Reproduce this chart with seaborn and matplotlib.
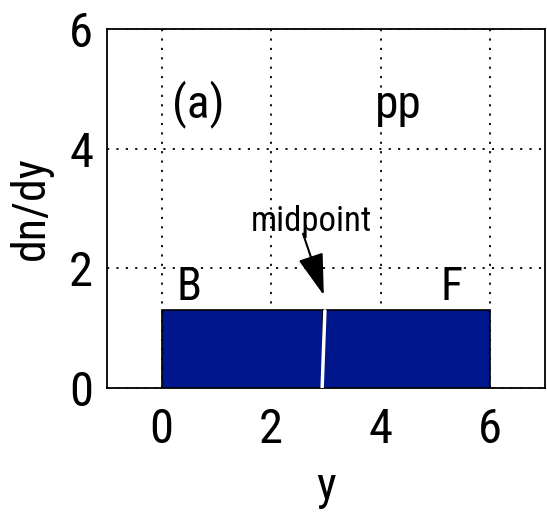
import matplotlib
matplotlib.use("Agg")
import matplotlib.pyplot as plt
import seaborn as sns
import numpy as np

# data
bin_edges = [0.0, 2.95, 6.0]
bin_centers = [1.5, 4.5]
heights = [1.3, 1.3]
midpoint = 2.95
xticks = [0, 2, 4, 6]
yticks = [0, 2, 4, 6]

sns.set_theme(style="white")
plt.rcParams['font.family'] = ['Roboto Condensed', 'Liberation Sans', 'DejaVu Sans']
plt.rcParams['text.color'] = 'black'
plt.rcParams['axes.labelcolor'] = 'black'

fig = plt.figure(figsize=(5.47, 5.15), dpi=100)
ax = fig.add_axes([0.1956, 0.2466, 0.8007, 0.6971])

sns.histplot(x=bin_centers, weights=heights, bins=bin_edges, stat="count",
             color="#00168c", alpha=1, edgecolor="black", linewidth=1.2, ax=ax, zorder=3)
ax.plot([midpoint + 0.03, midpoint - 0.02], [heights[0] - 0.01, 0.01], color="white", lw=2.5, zorder=4)

ax.set_xlim(-1, 7)
ax.set_ylim(0, 6)
ax.set_xticks(xticks)
ax.set_yticks(yticks)
ax.grid(True, color="black", linestyle=(0, (1.2, 4)), linewidth=1.3, zorder=0)
ax.set_axisbelow(True)
for s in ax.spines.values():
    s.set_color("black")
    s.set_linewidth(1.3)
ax.tick_params(axis="both", direction="in", length=0, labelsize=35, colors="black")
ax.tick_params(axis="x", pad=14)
ax.tick_params(axis="y", pad=10)
ax.set_xlabel("y", fontsize=34, labelpad=8, color="black")
ax.set_ylabel("dn/dy", fontsize=33, labelpad=12, color="black")

ax.text(0.67, 4.52, "(a)", fontsize=34, ha="center", va="baseline", color="black")
ax.text(4.32, 4.52, "pp", fontsize=34, ha="center", va="baseline", color="black")
ax.text(0.5, 1.47, "B", fontsize=33, ha="center", va="baseline", color="black")
ax.text(5.3, 1.47, "F", fontsize=33, ha="center", va="baseline", color="black")
ax.text(2.73, 2.63, "midpoint", fontsize=25, ha="center", va="baseline", color="black")
ax.annotate("", xy=(2.96, 1.55), xytext=(2.58, 2.58),
            arrowprops=dict(arrowstyle="-|>,head_length=1.3,head_width=0.4",
                            mutation_scale=20, color="black", lw=1.5,
                            shrinkA=0, shrinkB=0))

fig.savefig("out.png", dpi=100)
